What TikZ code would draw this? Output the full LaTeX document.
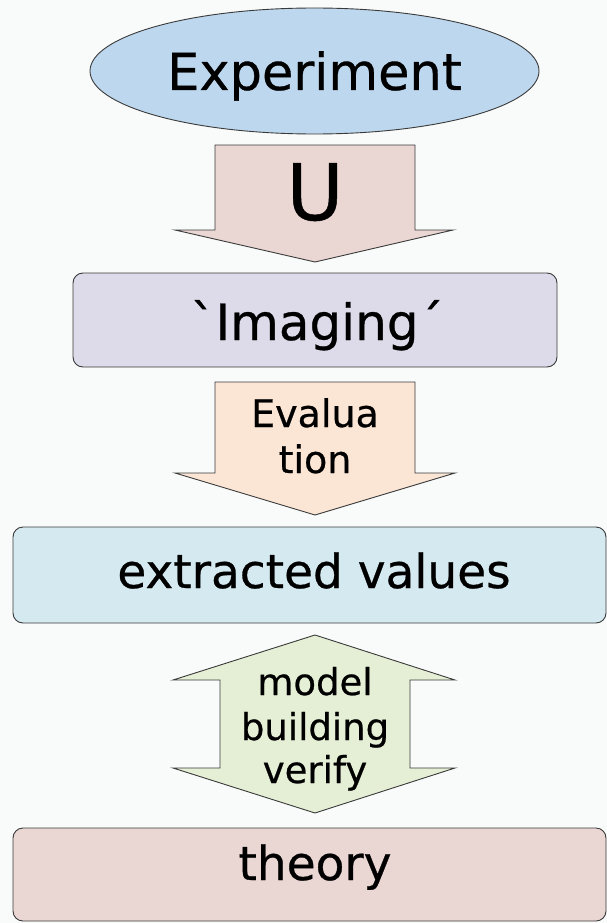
\documentclass[tikz,border=0pt]{standalone}
\usepackage{fontspec}
\setmainfont{DejaVu Sans}[FakeBold=0.6]
\newfontfamily\rawfont{DejaVu Sans}[FakeBold=0.6]
\usetikzlibrary{shapes.geometric}
\definecolor{bg}{HTML}{F9FBFB}
\definecolor{cExp}{HTML}{BDD7EE}
\definecolor{cU}{HTML}{EAD6D2}
\definecolor{cImg}{HTML}{DDDBE9}
\definecolor{cEval}{HTML}{FBE5D5}
\definecolor{cExt}{HTML}{D5EAF0}
\definecolor{cMod}{HTML}{E5EFD5}
\definecolor{cTh}{HTML}{EAD6D3}
\definecolor{edge}{HTML}{3A3A3A}
\tikzset{
  outl/.style={draw=edge, line width=0.9pt},
  boxshape/.style={outl, rounded corners=10pt},
  lbl/.style={anchor=base, inner sep=0pt, text=black},
}
\begin{document}
\begin{tikzpicture}[x=1pt,y=-1pt]
\fill[bg] (0,0) rectangle (607,923);
\useasboundingbox (0,0) rectangle (607,923);
% Experiment ellipse
\node[ellipse, outl, fill=cExp, minimum width=449pt, minimum height=126pt, inner sep=0pt] (exp) at (314.5,71) {};
\node[lbl, font=\fontsize{51}{60}\selectfont] (expT) at (314.5,90) {Experiment};
% U arrow
\filldraw[outl, fill=cU] (215,145) -- (415,145) -- (415,230) -- (453,230) -- (315,262) -- (175,230) -- (215,230) -- cycle;
\node[lbl, font=\fontsize{78}{90}\selectfont] (uT) at (315,220) {U};
% Imaging box
\filldraw[boxshape, fill=cImg] (73,273) rectangle (557,367);
\node[lbl, font=\rawfont\fontsize{50}{60}\selectfont] (imgT) at (317,340) {`Imaging´};
% Evaluation arrow
\filldraw[outl, fill=cEval] (215,382) -- (415,382) -- (415,473) -- (455,473) -- (315,515) -- (175,473) -- (215,473) -- cycle;
\node[lbl, font=\fontsize{38}{46}\selectfont] (evT1) at (315,427) {Evalua};
\node[lbl, font=\fontsize{38}{46}\selectfont] (evT2) at (315,473) {tion};
% extracted values box
\filldraw[boxshape, fill=cExt] (13,527) rectangle (606,623);
\node[lbl, font=\fontsize{47}{56}\selectfont] (extT) at (314,588) {extracted values};
% double arrow
\filldraw[outl, fill=cMod] (315,635) -- (455,680) -- (410,680) -- (410,768) -- (455,768) -- (315,813) -- (173,768) -- (220,768) -- (220,680) -- (173,680) -- cycle;
\node[lbl, font=\fontsize{37}{44}\selectfont] (m1) at (315,695) {model};
\node[lbl, font=\fontsize{37}{44}\selectfont] (m2) at (315,740) {building};
\node[lbl, font=\fontsize{37}{44}\selectfont] (m3) at (315,783) {verify};
% theory box
\filldraw[boxshape, fill=cTh] (13,828) rectangle (606,921);
\node[lbl, font=\fontsize{47}{56}\selectfont] (thT) at (315,880) {theory};
\end{tikzpicture}
\end{document}
